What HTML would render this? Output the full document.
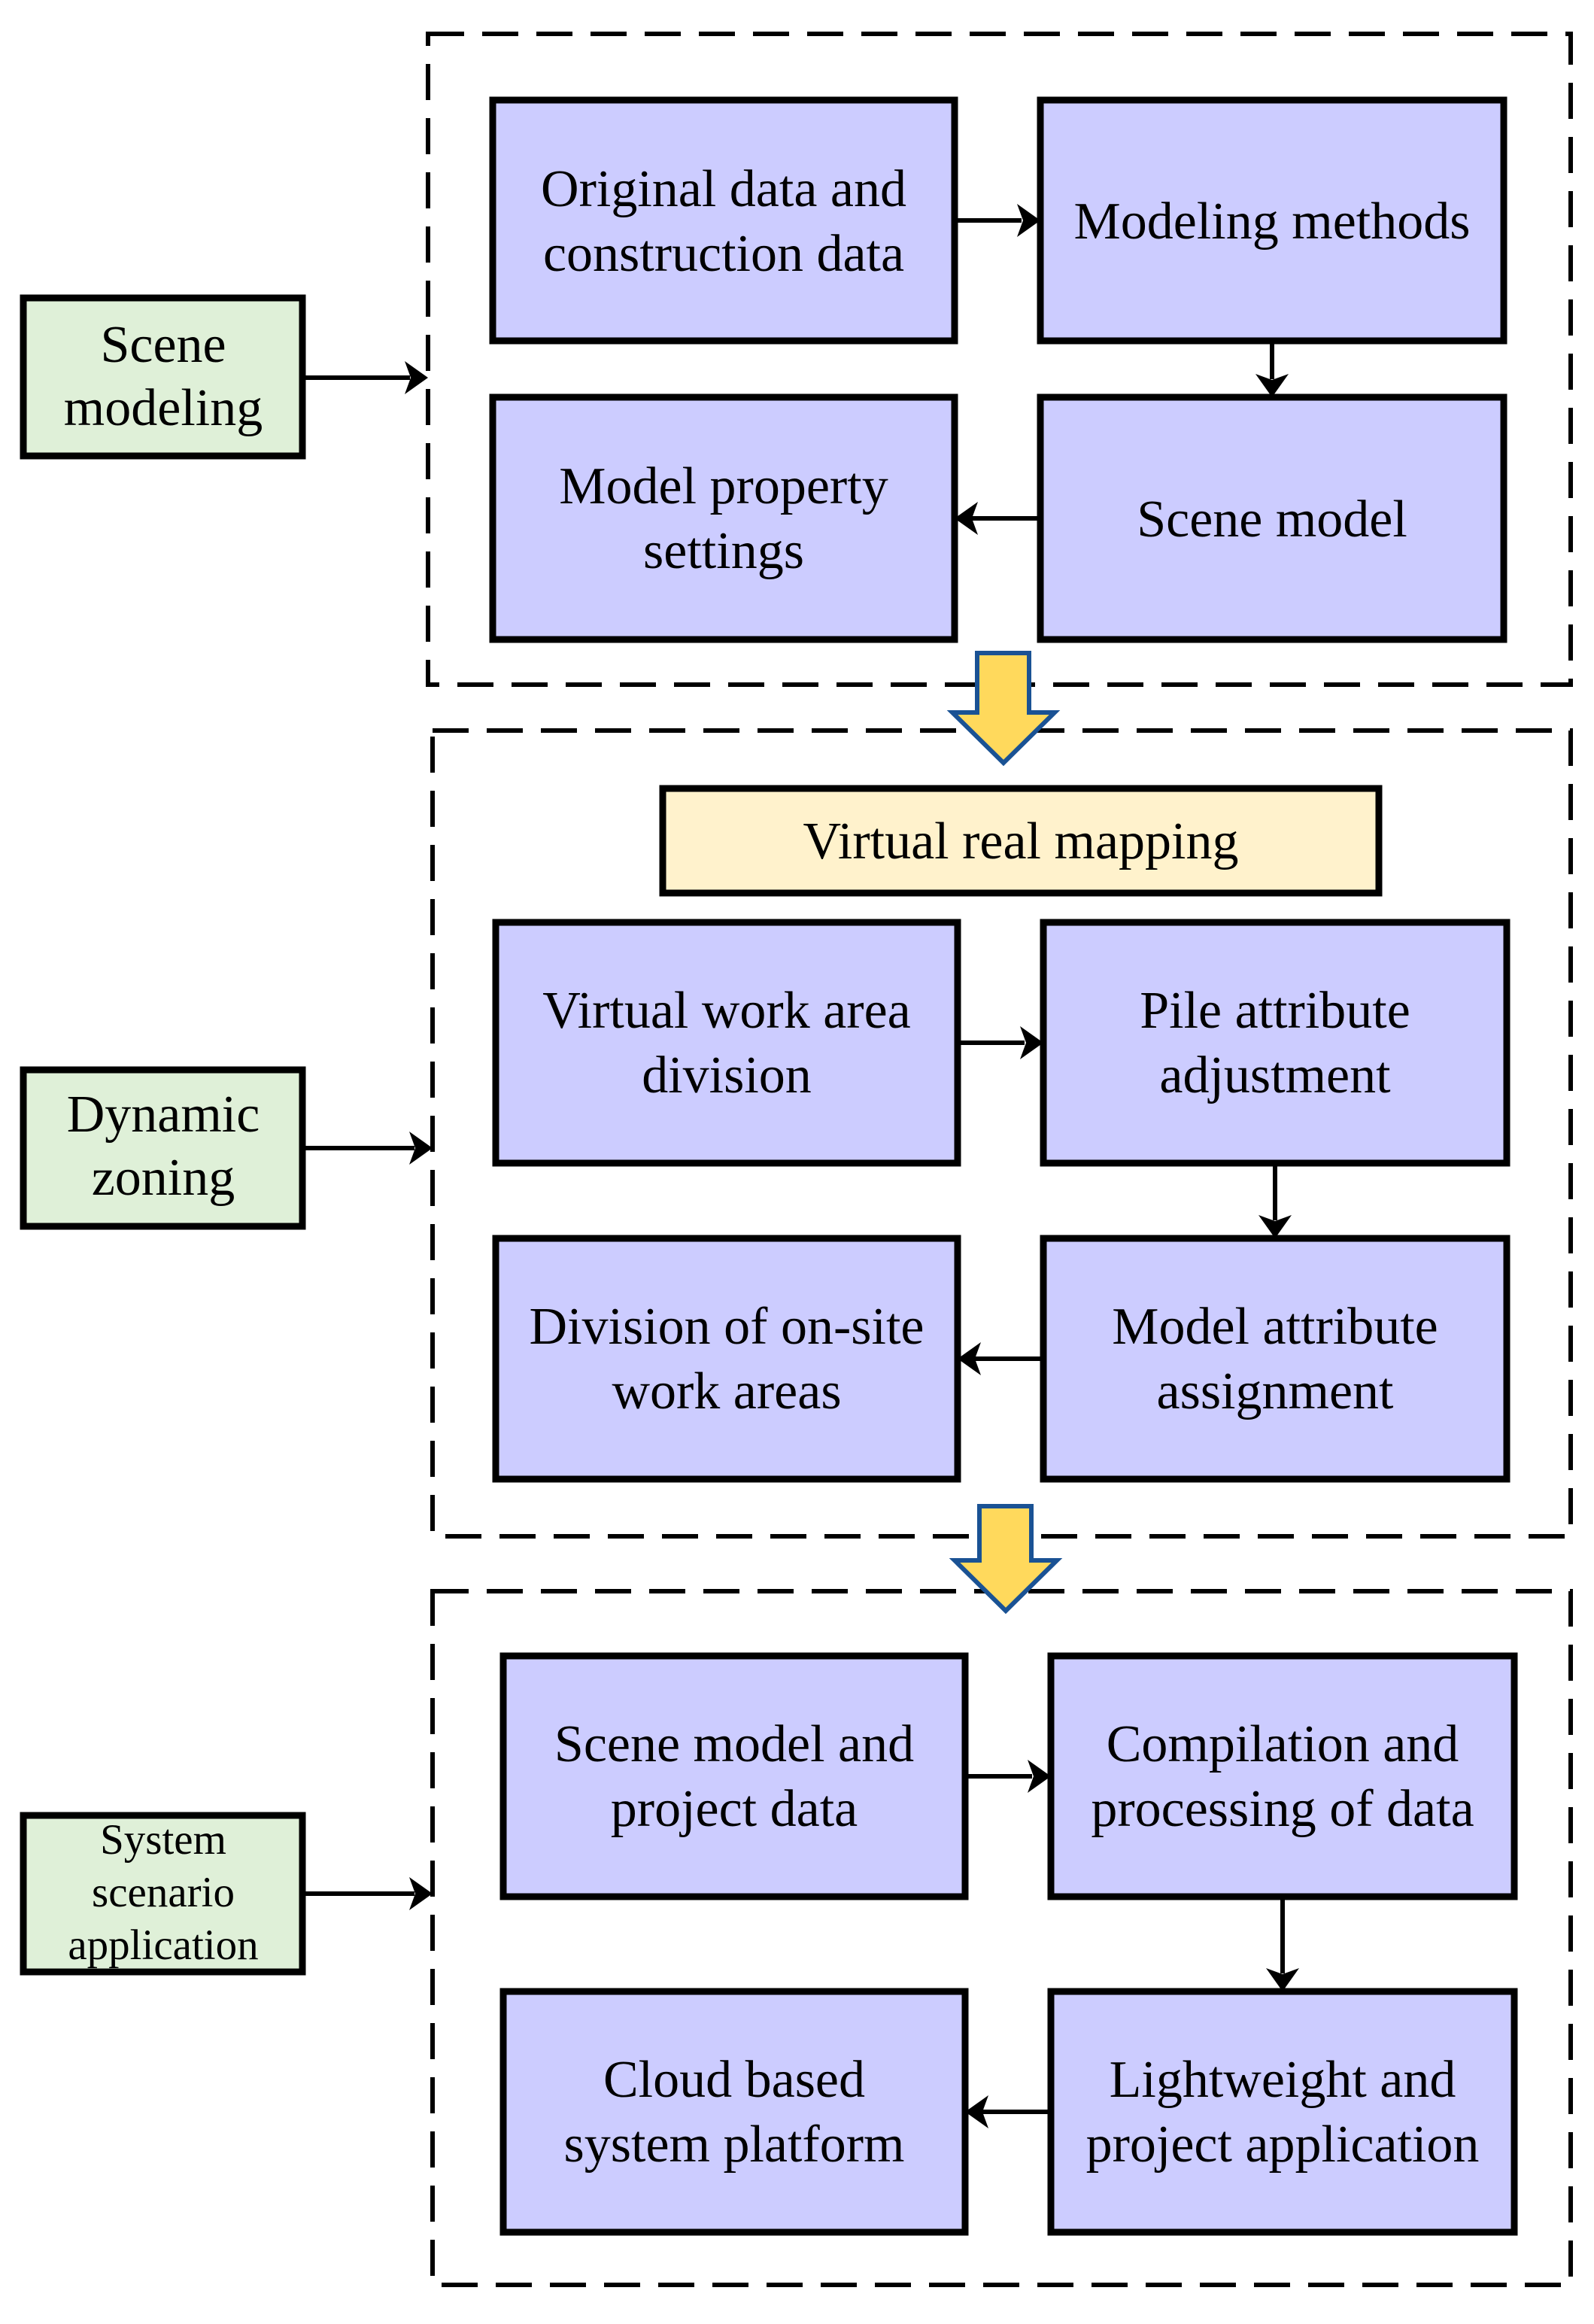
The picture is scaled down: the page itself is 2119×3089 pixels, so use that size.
<!DOCTYPE html>
<html><head><meta charset="utf-8"><style>
html,body{margin:0;padding:0;background:#fff;}
svg{display:block;}
text{font-family:"Liberation Serif",serif;fill:#000;}
</style></head><body>
<svg width="2119" height="3089" viewBox="0 0 2119 3089" xmlns="http://www.w3.org/2000/svg">
<g fill="none" stroke="#000" stroke-width="6" stroke-dasharray="48,24">
<rect x="569" y="45" width="1519" height="865"/>
<rect x="575" y="971" width="1513" height="1071"/>
<rect x="575" y="2115" width="1513" height="922"/>
</g>
<g stroke="#000" stroke-width="9">
<rect x="31" y="396" width="371" height="210" fill="#dff0d8"/>
<rect x="31" y="1422" width="371" height="208" fill="#dff0d8"/>
<rect x="31" y="2413" width="371" height="208" fill="#dff0d8"/>
<rect x="655" y="133" width="614" height="320" fill="#ccccff"/>
<rect x="1383" y="133" width="616" height="320" fill="#ccccff"/>
<rect x="655" y="528" width="614" height="322" fill="#ccccff"/>
<rect x="1383" y="528" width="616" height="322" fill="#ccccff"/>
<rect x="881" y="1048" width="952" height="139" fill="#fff2cc"/>
<rect x="659" y="1226" width="614" height="320" fill="#ccccff"/>
<rect x="1387" y="1226" width="616" height="320" fill="#ccccff"/>
<rect x="659" y="1646" width="614" height="320" fill="#ccccff"/>
<rect x="1387" y="1646" width="616" height="320" fill="#ccccff"/>
<rect x="669" y="2201" width="614" height="320" fill="#ccccff"/>
<rect x="1397" y="2201" width="616" height="320" fill="#ccccff"/>
<rect x="669" y="2647" width="614" height="320" fill="#ccccff"/>
<rect x="1397" y="2647" width="616" height="320" fill="#ccccff"/>
</g>
<g stroke="#000" stroke-width="6" fill="none">
<line x1="402" y1="502" x2="545" y2="502"/>
<line x1="402" y1="1526" x2="551" y2="1526"/>
<line x1="402" y1="2517" x2="551" y2="2517"/>
<line x1="1269" y1="293" x2="1358" y2="293"/>
<line x1="1691" y1="453" x2="1691" y2="504"/>
<line x1="1383" y1="689" x2="1292" y2="689"/>
<line x1="1273" y1="1386" x2="1362" y2="1386"/>
<line x1="1695" y1="1546" x2="1695" y2="1622"/>
<line x1="1387" y1="1806" x2="1296" y2="1806"/>
<line x1="1283" y1="2361" x2="1372" y2="2361"/>
<line x1="1705" y1="2521" x2="1705" y2="2623"/>
<line x1="1397" y1="2807" x2="1306" y2="2807"/>
</g>
<g fill="#000">
<polygon points="569,502 538,480 546,502 538,524"/>
<polygon points="575,1526 544,1504 552,1526 544,1548"/>
<polygon points="575,2517 544,2495 552,2517 544,2539"/>
<polygon points="1383,293 1352,271 1360,293 1352,315"/>
<polygon points="1691,528 1669,497 1691,505 1713,497"/>
<polygon points="1269,689 1300,667 1292,689 1300,711"/>
<polygon points="1387,1386 1356,1364 1364,1386 1356,1408"/>
<polygon points="1695,1646 1673,1615 1695,1623 1717,1615"/>
<polygon points="1273,1806 1304,1784 1296,1806 1304,1828"/>
<polygon points="1397,2361 1366,2339 1374,2361 1366,2383"/>
<polygon points="1705,2647 1683,2616 1705,2624 1727,2616"/>
<polygon points="1283,2807 1314,2785 1306,2807 1314,2829"/>
</g>
<g fill="#ffd95c" stroke="#1a5294" stroke-width="6" stroke-linejoin="miter">
<polygon points="1299,868 1368,868 1368,947 1402,947 1334,1014 1266,947 1299,947"/>
<polygon points="1302,2002 1371,2002 1371,2074 1405,2074 1337,2141 1269,2074 1302,2074"/>
</g>
<g font-size="70" text-anchor="middle">
<g transform="translate(217,481)"><text x="0" y="0">Scene</text><text x="0" y="84">modeling</text></g>
<g transform="translate(217,1504)"><text x="0" y="0">Dynamic</text><text x="0" y="84">zoning</text></g>
<g transform="translate(962,274)"><text x="0" y="0">Original data and</text><text x="0" y="86">construction data</text></g>
<g transform="translate(1691,317)"><text x="0" y="0">Modeling methods</text></g>
<g transform="translate(962,669)"><text x="0" y="0">Model property</text><text x="0" y="86">settings</text></g>
<g transform="translate(1691,713)"><text x="0" y="0">Scene model</text></g>
<g transform="translate(1357,1141)"><text x="0" y="0">Virtual real mapping</text></g>
<g transform="translate(966,1366)"><text x="0" y="0">Virtual work area</text><text x="0" y="86">division</text></g>
<g transform="translate(1695,1366)"><text x="0" y="0">Pile attribute</text><text x="0" y="86">adjustment</text></g>
<g transform="translate(966,1786)"><text x="0" y="0">Division of on-site</text><text x="0" y="86">work areas</text></g>
<g transform="translate(1695,1786)"><text x="0" y="0">Model attribute</text><text x="0" y="86">assignment</text></g>
<g transform="translate(976,2341)"><text x="0" y="0">Scene model and</text><text x="0" y="86">project data</text></g>
<g transform="translate(1705,2341)"><text x="0" y="0">Compilation and</text><text x="0" y="86">processing of data</text></g>
<g transform="translate(976,2787)"><text x="0" y="0">Cloud based</text><text x="0" y="86">system platform</text></g>
<g transform="translate(1705,2787)"><text x="0" y="0">Lightweight and</text><text x="0" y="86">project application</text></g>
</g>
<g font-size="57" text-anchor="middle">
<g transform="translate(217,2464)"><text x="0" y="0">System</text><text x="0" y="70">scenario</text><text x="0" y="140">application</text></g>
</g>
</svg>
</body></html>
